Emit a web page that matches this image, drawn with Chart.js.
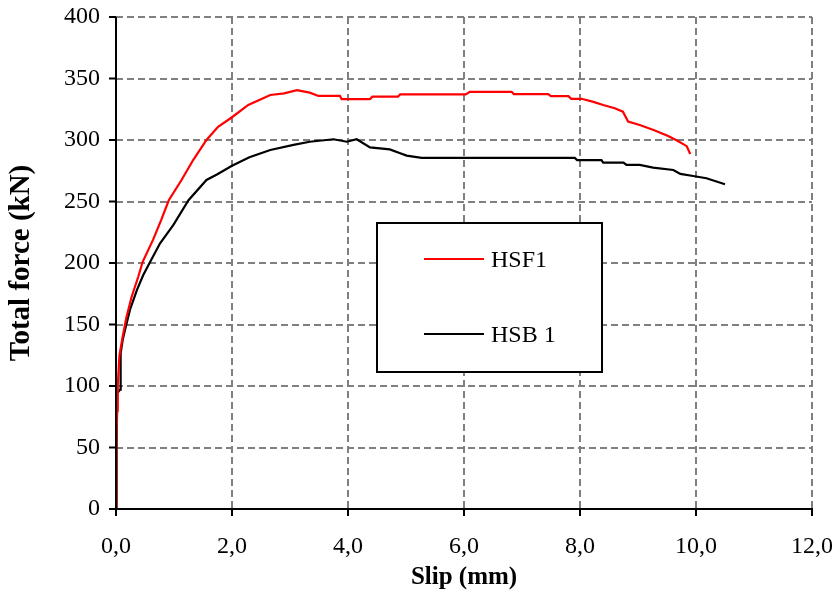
<!DOCTYPE html>
<html>
<head>
<meta charset="utf-8">
<script src="https://cdn.jsdelivr.net/npm/chart.js@4.4.1/dist/chart.umd.min.js"></script>
<style>
html,body{margin:0;padding:0;background:#fff;}
#wrap{width:840px;height:597px;position:relative;}
</style>
</head>
<body>
<div id="wrap"><canvas id="c" width="840" height="597"></canvas></div>
<script>
// ---- data ----
const seriesNames = ['HSF1', 'HSB 1'];
const seriesColors = ['#ff0000', '#000000'];

const hsf1Slip = [0, 0.005, 0.01, 0.02, 0.03, 0.06, 0.115, 0.18, 0.27, 0.385, 0.46, 0.64, 0.78, 0.91, 1.13, 1.33, 1.56, 1.76, 2.0, 2.28, 2.66, 2.9, 3.12, 3.34, 3.49, 3.86, 3.89, 4.38, 4.42, 4.86, 4.9, 6.03, 6.1, 6.82, 6.86, 7.45, 7.5, 7.8, 7.85, 8.03, 8.23, 8.4, 8.6, 8.74, 8.83, 9.03, 9.28, 9.52, 9.68, 9.84, 9.9];
const hsf1Force = [0, 20, 50, 80, 100, 125, 140, 156, 172.6, 189, 201, 219, 235, 251, 267.5, 283.7, 300, 310.8, 318.5, 328.5, 336.6, 337.9, 340.5, 338.5, 335.8, 335.8, 333.3, 333.3, 335.2, 335.2, 337.1, 337.1, 339.2, 339.2, 337.3, 337.3, 335.7, 335.7, 333.5, 333.5, 331, 328.5, 325.8, 323, 315, 312.2, 308, 303.3, 299.4, 295, 288.6];

const hsb1Slip = [0, 0.01, 0.02, 0.07, 0.08, 0.115, 0.155, 0.24, 0.36, 0.47, 0.59, 0.76, 0.99, 1.25, 1.56, 1.74, 2.0, 2.3, 2.66, 3.06, 3.34, 3.75, 3.98, 4.15, 4.38, 4.72, 4.9, 5.01, 5.27, 7.91, 7.95, 8.37, 8.4, 8.75, 8.8, 9.03, 9.26, 9.61, 9.73, 9.95, 10.18, 10.5];
const hsb1Force = [0, 50, 94, 97, 126.6, 137.4, 145.5, 161.8, 178, 190.2, 201, 216, 231, 251, 267.5, 272, 279, 286, 291.9, 296, 298.6, 300.6, 298.6, 300.6, 294, 292.4, 289.2, 287.3, 285.4, 285.4, 283.7, 283.7, 281.6, 281.6, 279.7, 279.7, 277.5, 275.6, 272.4, 270.7, 268.9, 264];

const xTickValues = [0, 2, 4, 6, 8, 10, 12];
const xTickLabels = ['0,0', '2,0', '4,0', '6,0', '8,0', '10,0', '12,0'];
const yTickValues = [0, 50, 100, 150, 200, 250, 300, 350, 400];
const yTickLabels = ['0', '50', '100', '150', '200', '250', '300', '350', '400'];

const xTitle = 'Slip (mm)';
const yTitle = 'Total force (kN)';

function pairs(xs, ys) { return xs.map((x, i) => ({x: x, y: ys[i]})); }

const SERIF = "'Liberation Serif', 'Times New Roman', serif";

// axis lines + outward tick marks
const axisPlugin = {
  id: 'axisPlugin',
  afterDatasetsDraw(chart) {
    const {ctx, chartArea: a, scales: {x, y}} = chart;
    ctx.save();
    ctx.strokeStyle = '#000';
    ctx.lineWidth = 2;
    ctx.setLineDash([]);
    ctx.beginPath();
    ctx.moveTo(a.left, a.top);
    ctx.lineTo(a.left, a.bottom);
    ctx.moveTo(a.left - 7, a.bottom);
    ctx.lineTo(a.right + 1, a.bottom);
    yTickValues.forEach(v => {
      const py = y.getPixelForValue(v);
      ctx.moveTo(a.left - 7, py);
      ctx.lineTo(a.left, py);
    });
    xTickValues.forEach(v => {
      const px = x.getPixelForValue(v);
      ctx.moveTo(px, a.bottom);
      ctx.lineTo(px, a.bottom + 7);
    });
    ctx.stroke();
    ctx.restore();
  }
};

// boxed legend inside plot
const boxLegend = {
  id: 'boxLegend',
  afterDraw(chart) {
    const ctx = chart.ctx;
    const bx = 377, by = 223, bw = 225, bh = 149;
    ctx.save();
    ctx.setLineDash([]);
    ctx.fillStyle = '#fff';
    ctx.fillRect(bx, by, bw, bh);
    ctx.strokeStyle = '#000';
    ctx.lineWidth = 2;
    ctx.strokeRect(bx, by, bw, bh);
    const rows = [259, 334];
    chart.data.datasets.forEach((ds, i) => {
      const ly = rows[i];
      ctx.strokeStyle = ds.borderColor;
      ctx.lineWidth = 2;
      ctx.beginPath();
      ctx.moveTo(424, ly);
      ctx.lineTo(484, ly);
      ctx.stroke();
      ctx.fillStyle = '#000';
      ctx.font = '24px ' + SERIF;
      ctx.textBaseline = 'middle';
      ctx.textAlign = 'left';
      ctx.fillText(ds.label, 491, ly + 2);
    });
    ctx.restore();
  }
};

function noPad(s) { s.paddingTop = 0; s.paddingBottom = 0; s.paddingLeft = 0; s.paddingRight = 0; }

new Chart(document.getElementById('c'), {
  type: 'line',
  data: {
    datasets: [
      {label: seriesNames[0], data: pairs(hsf1Slip, hsf1Force), borderColor: seriesColors[0], borderWidth: 2.2, pointRadius: 0, tension: 0, fill: false},
      {label: seriesNames[1], data: pairs(hsb1Slip, hsb1Force), borderColor: seriesColors[1], borderWidth: 2.2, pointRadius: 0, tension: 0, fill: false}
    ]
  },
  options: {
    responsive: false,
    animation: false,
    layout: {padding: {left: 0, right: 28, top: 17, bottom: 0}},
    plugins: {legend: {display: false}, tooltip: {enabled: false}},
    scales: {
      x: {
        type: 'linear', min: 0, max: 12,
        afterBuildTicks(s) { s.ticks = xTickValues.map(v => ({value: v})); },
        afterFit(s) { s.height = 88; noPad(s); },
        ticks: {
          callback: (v) => xTickLabels[xTickValues.indexOf(v)],
          font: {family: SERIF, size: 24}, color: '#000', padding: 23, maxRotation: 0
        },
        grid: {color: '#808080', lineWidth: 2, drawTicks: false},
        border: {display: false, dash: [7, 4]},
        title: {display: true, text: xTitle, font: {family: SERIF, size: 25, weight: 'bold'}, color: '#000', padding: {top: 0, bottom: 4}}
      },
      y: {
        type: 'linear', min: 0, max: 400,
        afterBuildTicks(s) { s.ticks = yTickValues.map(v => ({value: v})); },
        afterFit(s) { s.width = 116; noPad(s); },
        ticks: {
          callback: (v) => yTickLabels[yTickValues.indexOf(v)],
          font: {family: SERIF, size: 24}, color: '#000', padding: 16
        },
        grid: {color: '#808080', lineWidth: 2, drawTicks: false},
        border: {display: false, dash: [7, 4]},
        title: {display: true, text: yTitle, font: {family: SERIF, size: 29, weight: 'bold'}, color: '#000', padding: {top: 4, bottom: 0}}
      }
    }
  },
  plugins: [axisPlugin, boxLegend]
});
</script>
</body>
</html>
